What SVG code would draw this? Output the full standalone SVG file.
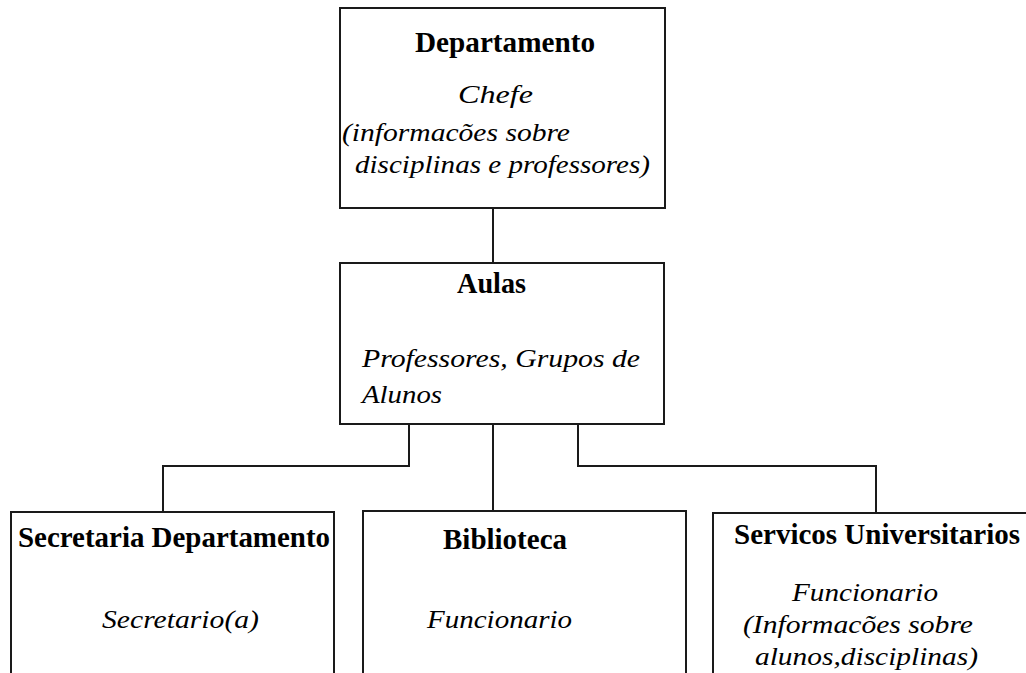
<svg xmlns="http://www.w3.org/2000/svg" width="1026" height="673" viewBox="0 0 1026 673">
  <style>
    .box { fill: #ffffff; stroke: #1a1a1a; stroke-width: 2; }
    .wire { fill: none; stroke: #1a1a1a; stroke-width: 2; }
    .title { font-family: "Liberation Serif", "Times New Roman", serif; font-weight: bold; font-size: 29px; fill: #000; }
    .note { font-family: "Liberation Serif", "Times New Roman", serif; font-style: italic; font-size: 25px; fill: #000; }
  </style>
  <rect width="1026" height="673" fill="#ffffff"/>

  <!-- connectors between the units -->
  <g id="connectors">
    <path class="wire" d="M493 208 V263"/>
    <path class="wire" d="M409 424 V466 H163 V512"/>
    <path class="wire" d="M493 424 V511"/>
    <path class="wire" d="M578 424 V466 H876 V513"/>
  </g>

  <g id="departamento">
    <rect class="box" x="340" y="8" width="325" height="200"/>
    <text class="title" x="415" y="52" textLength="180" lengthAdjust="spacingAndGlyphs">Departamento</text>
    <text class="note" x="458" y="103" textLength="75" lengthAdjust="spacingAndGlyphs">Chefe</text>
    <text class="note" x="342" y="141" textLength="228" lengthAdjust="spacingAndGlyphs">(informacões sobre</text>
    <text class="note" x="355" y="173" textLength="295" lengthAdjust="spacingAndGlyphs">disciplinas e professores)</text>
  </g>

  <g id="aulas">
    <rect class="box" x="340" y="263" width="324" height="161"/>
    <text class="title" x="457" y="293" textLength="69" lengthAdjust="spacingAndGlyphs">Aulas</text>
    <text class="note" x="362" y="367" textLength="278" lengthAdjust="spacingAndGlyphs">Professores, Grupos de</text>
    <text class="note" x="362" y="403" textLength="80" lengthAdjust="spacingAndGlyphs">Alunos</text>
  </g>

  <g id="secretaria">
    <rect class="box" x="11" y="512" width="323" height="200"/>
    <text class="title" x="18" y="547" textLength="312" lengthAdjust="spacingAndGlyphs">Secretaria Departamento</text>
    <text class="note" x="102" y="628" textLength="157" lengthAdjust="spacingAndGlyphs">Secretario(a)</text>
  </g>

  <g id="biblioteca">
    <rect class="box" x="363" y="511" width="323" height="200"/>
    <text class="title" x="443" y="549" textLength="124" lengthAdjust="spacingAndGlyphs">Biblioteca</text>
    <text class="note" x="427" y="628" textLength="145" lengthAdjust="spacingAndGlyphs">Funcionario</text>
  </g>

  <g id="servicos">
    <rect class="box" x="713" y="513" width="340" height="200"/>
    <text class="title" x="734" y="544" textLength="286" lengthAdjust="spacingAndGlyphs">Servicos Universitarios</text>
    <text class="note" x="792" y="601" textLength="146" lengthAdjust="spacingAndGlyphs">Funcionario</text>
    <text class="note" x="743" y="633" textLength="230" lengthAdjust="spacingAndGlyphs">(Informacões sobre</text>
    <text class="note" x="755" y="665" textLength="223" lengthAdjust="spacingAndGlyphs">alunos,disciplinas)</text>
  </g>
</svg>
